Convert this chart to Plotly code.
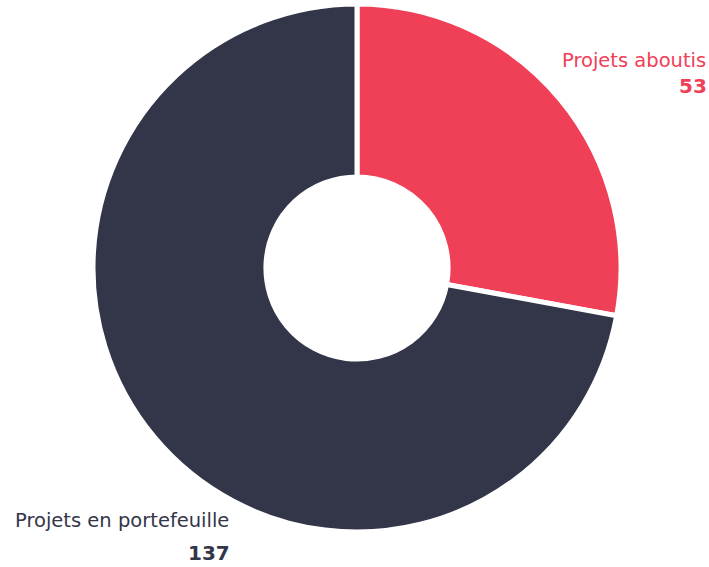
import plotly.graph_objects as go

categories = ["Projets aboutis", "Projets en portefeuille"]
values = [53, 137]
colors = ["#F04057", "#333649"]

W, H = 709, 567

fig = go.Figure(go.Pie(
    labels=categories,
    values=values,
    hole=0.345,
    sort=False,
    direction="clockwise",
    rotation=0,
    marker=dict(colors=colors, line=dict(color="#FFFFFF", width=5)),
    textinfo="none",
    hoverinfo="label+value",
    showlegend=False,
    domain=dict(x=[93 / W, 621 / W], y=[1 - 532 / H, 1 - 4 / H]),
))

font = "DejaVu Sans, Verdana, sans-serif"
ann = []
# label positions (pixel anchors, right-aligned)
spots = [(708, 60, 86), (231, 520, 553)]
for (cat, val, col), (xr, y1, y2) in zip(zip(categories, values, colors), spots):
    ann.append(dict(x=xr / W, y=1 - y1 / H, xref="paper", yref="paper",
                    text=cat, showarrow=False, xanchor="right", yanchor="middle",
                    font=dict(family=font, size=19.5, color=col)))
    ann.append(dict(x=(xr + 1) / W, y=1 - y2 / H, xref="paper", yref="paper",
                    text=f"<b>{val}</b>", showarrow=False, xanchor="right", yanchor="middle",
                    font=dict(family=font, size=20, color=col)))

fig.update_layout(
    width=W, height=H,
    margin=dict(l=0, r=0, t=0, b=0),
    paper_bgcolor="white", plot_bgcolor="white",
    annotations=ann,
)

fig.write_html("out.html")
